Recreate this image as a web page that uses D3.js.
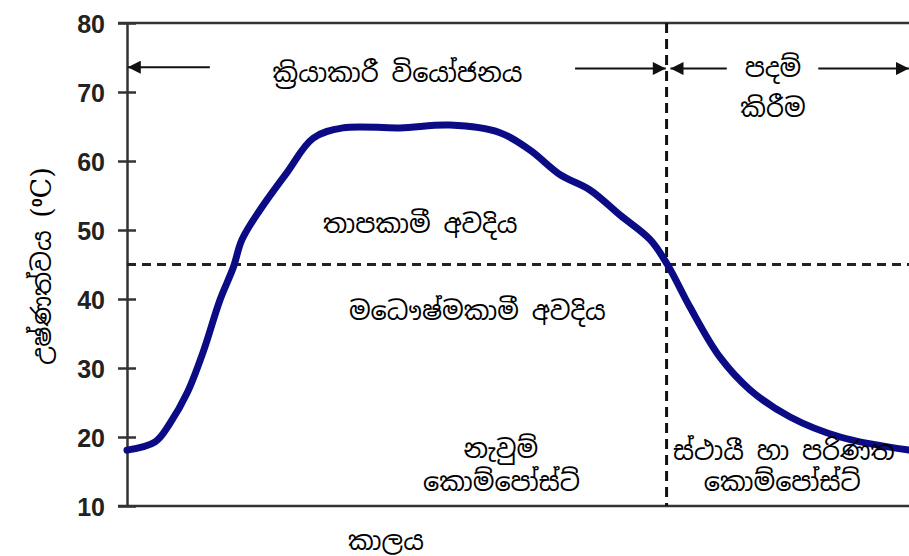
<!DOCTYPE html>
<html>
<head>
<meta charset="utf-8">
<script src="https://cdn.jsdelivr.net/npm/d3@7"></script>
<style>
    body { margin: 0; background: #fff; }
    .tick-label { font-family: 'Liberation Sans', Arial, sans-serif; font-weight: bold; font-size: 25px; fill: #222; }
    .si { font-family: 'Noto Sans Sinhala', 'Noto Serif Sinhala', 'Iskoola Pota', serif; font-size: 25.5px; fill: #000; }
</style>
</head>
<body>
<svg id="chart"></svg>
<script>
// Chart values.
const timeSteps = [0, 3.6, 5.5, 7.7, 9.7, 11.9, 13.6, 14.7, 17, 20.5, 23.8, 27.6, 34.9, 41.3, 47.7, 51.5, 55.4, 59.2, 63, 66.9, 69.1, 72, 75.8, 79.7, 84.8, 91.2, 100];
const temperatures = [18.1, 19.3, 22, 26.4, 32.2, 39.9, 44.6, 48.6, 52.9, 58.4, 63.3, 64.8, 64.8, 65.2, 64.1, 61.6, 58, 55.8, 52.2, 48.6, 45, 38.8, 31.6, 26.8, 22.9, 20, 18.1];
const yTicks = [10, 20, 30, 40, 50, 60, 70, 80];
const thresholdTemp = 45;
const phaseBoundary = 69;

// Phase arrows and labels, in chart units (time, temperature).
const phaseArrows = [
    { from: 10.6, to: 0.1, temp: 73.6 },
    { from: 57.3, to: 68.9, temp: 73.4 },
    { from: 76.7, to: 69.5, temp: 73.4 },
    { from: 88.4, to: 100, temp: 73.4 },
];
const labels = [
    { text: 'ක්‍රියාකාරී වියෝජනය', t: 34.6, temp: 72.8 },
    { text: 'පදම්', t: 82.6, temp: 73.4 },
    { text: 'කිරීම', t: 82.6, temp: 67.6 },
    { text: 'තාපකාමී අවදිය', t: 37.5, temp: 50.8 },
    { text: 'මධෞෂ්මකාමී අවදිය', t: 44.8, temp: 38.2 },
    { text: 'නැවුම්', t: 47.8, temp: 18.2 },
    { text: 'කොම්පෝස්ට්', t: 47.9, temp: 13.5 },
    { text: 'ස්ථායී හා පරිණත', t: 84.0, temp: 17.9 },
    { text: 'කොම්පෝස්ට්', t: 83.8, temp: 13.5 },
];

const width = 909;
const height = 556;
const marginLeft = 127;
const marginRight = 0;
const marginTop = 23;
const marginBottom = 50;

const x = d3.scaleLinear().domain([0, 100]).range([marginLeft, width - marginRight]);
const y = d3.scaleLinear().domain([10, 80]).range([height - marginBottom, marginTop]);

const svg = d3.select('#chart').attr('width', width).attr('height', height);

// Arrow head.
svg.append('defs')
    .append('marker')
    .attr('id', 'head')
    .attr('viewBox', '0 0 10 10')
    .attr('refX', 10)
    .attr('refY', 5)
    .attr('markerUnits', 'userSpaceOnUse')
    .attr('markerWidth', 15)
    .attr('markerHeight', 13)
    .attr('orient', 'auto')
    .append('path')
    .attr('d', 'M0,0L10,5L0,10Z')
    .attr('fill', '#111');

// Y axis with ticks crossing the line.
const yAxis = svg.append('g')
    .attr('transform', `translate(${marginLeft}, 0)`)
    .call(d3.axisLeft(y).tickValues(yTicks).tickSize(9).tickSizeOuter(0).tickPadding(13));
yAxis.select('.domain').attr('stroke', '#333').attr('stroke-width', 2.5);
yAxis.selectAll('.tick line').attr('stroke', '#333').attr('stroke-width', 2.5).attr('x2', 9).attr('x1', -9);
yAxis.selectAll('.tick text').attr('class', 'tick-label').attr('dy', '0.36em');

// Top and bottom frame lines.
[80, 10].forEach(v => {
    svg.append('line')
        .attr('x1', marginLeft - 9)
        .attr('x2', width)
        .attr('y1', y(v))
        .attr('y2', y(v))
        .attr('stroke', '#333')
        .attr('stroke-width', 2.5);
});

// Dashed guides.
svg.append('line')
    .attr('x1', x(0))
    .attr('x2', x(100))
    .attr('y1', y(thresholdTemp))
    .attr('y2', y(thresholdTemp))
    .attr('stroke', '#222')
    .attr('stroke-width', 3)
    .attr('stroke-dasharray', '9,6');

svg.append('line')
    .attr('x1', x(phaseBoundary))
    .attr('x2', x(phaseBoundary))
    .attr('y1', y(80))
    .attr('y2', y(10))
    .attr('stroke', '#111')
    .attr('stroke-width', 3)
    .attr('stroke-dasharray', '10,6');

// Temperature curve.
const line = d3.line()
    .x((d, i) => x(timeSteps[i]))
    .y(d => y(d))
    .curve(d3.curveCatmullRom.alpha(0.5));

svg.append('path')
    .datum(temperatures)
    .attr('fill', 'none')
    .attr('stroke', '#0b0b85')
    .attr('stroke-width', 7)
    .attr('stroke-linejoin', 'round')
    .attr('stroke-linecap', 'round')
    .attr('d', line);

// Phase arrows.
svg.append('g')
    .selectAll('line')
    .data(phaseArrows)
    .join('line')
    .attr('x1', d => x(d.from))
    .attr('x2', d => x(d.to))
    .attr('y1', d => y(d.temp))
    .attr('y2', d => y(d.temp))
    .attr('stroke', '#111')
    .attr('stroke-width', 2)
    .attr('marker-end', 'url(#head)');

// Phase labels.
svg.append('g')
    .selectAll('text')
    .data(labels)
    .join('text')
    .attr('class', 'si')
    .attr('x', d => x(d.t))
    .attr('y', d => y(d.temp))
    .attr('dy', '0.35em')
    .attr('text-anchor', 'middle')
    .text(d => d.text);

// Axis titles.
svg.append('text')
    .attr('class', 'si')
    .attr('x', 386)
    .attr('y', 541)
    .attr('dy', '0.35em')
    .attr('text-anchor', 'middle')
    .text('කාලය');

const yTitle = svg.append('text')
    .attr('class', 'si')
    .attr('transform', 'translate(42, 266) rotate(-90)')
    .attr('dy', '0.35em')
    .attr('text-anchor', 'middle');
yTitle.append('tspan').text('උෂ්ණත්වය  ');
yTitle.append('tspan').attr('font-family', 'DejaVu Serif, serif').attr('font-size', '27px').text('(');
yTitle.append('tspan').attr('baseline-shift', 'super').attr('font-size', '15px').attr('font-weight', 'bold').text('0');
yTitle.append('tspan').attr('font-family', 'DejaVu Serif, serif').attr('font-size', '27px').text('C)');
</script>
</body>
</html>
